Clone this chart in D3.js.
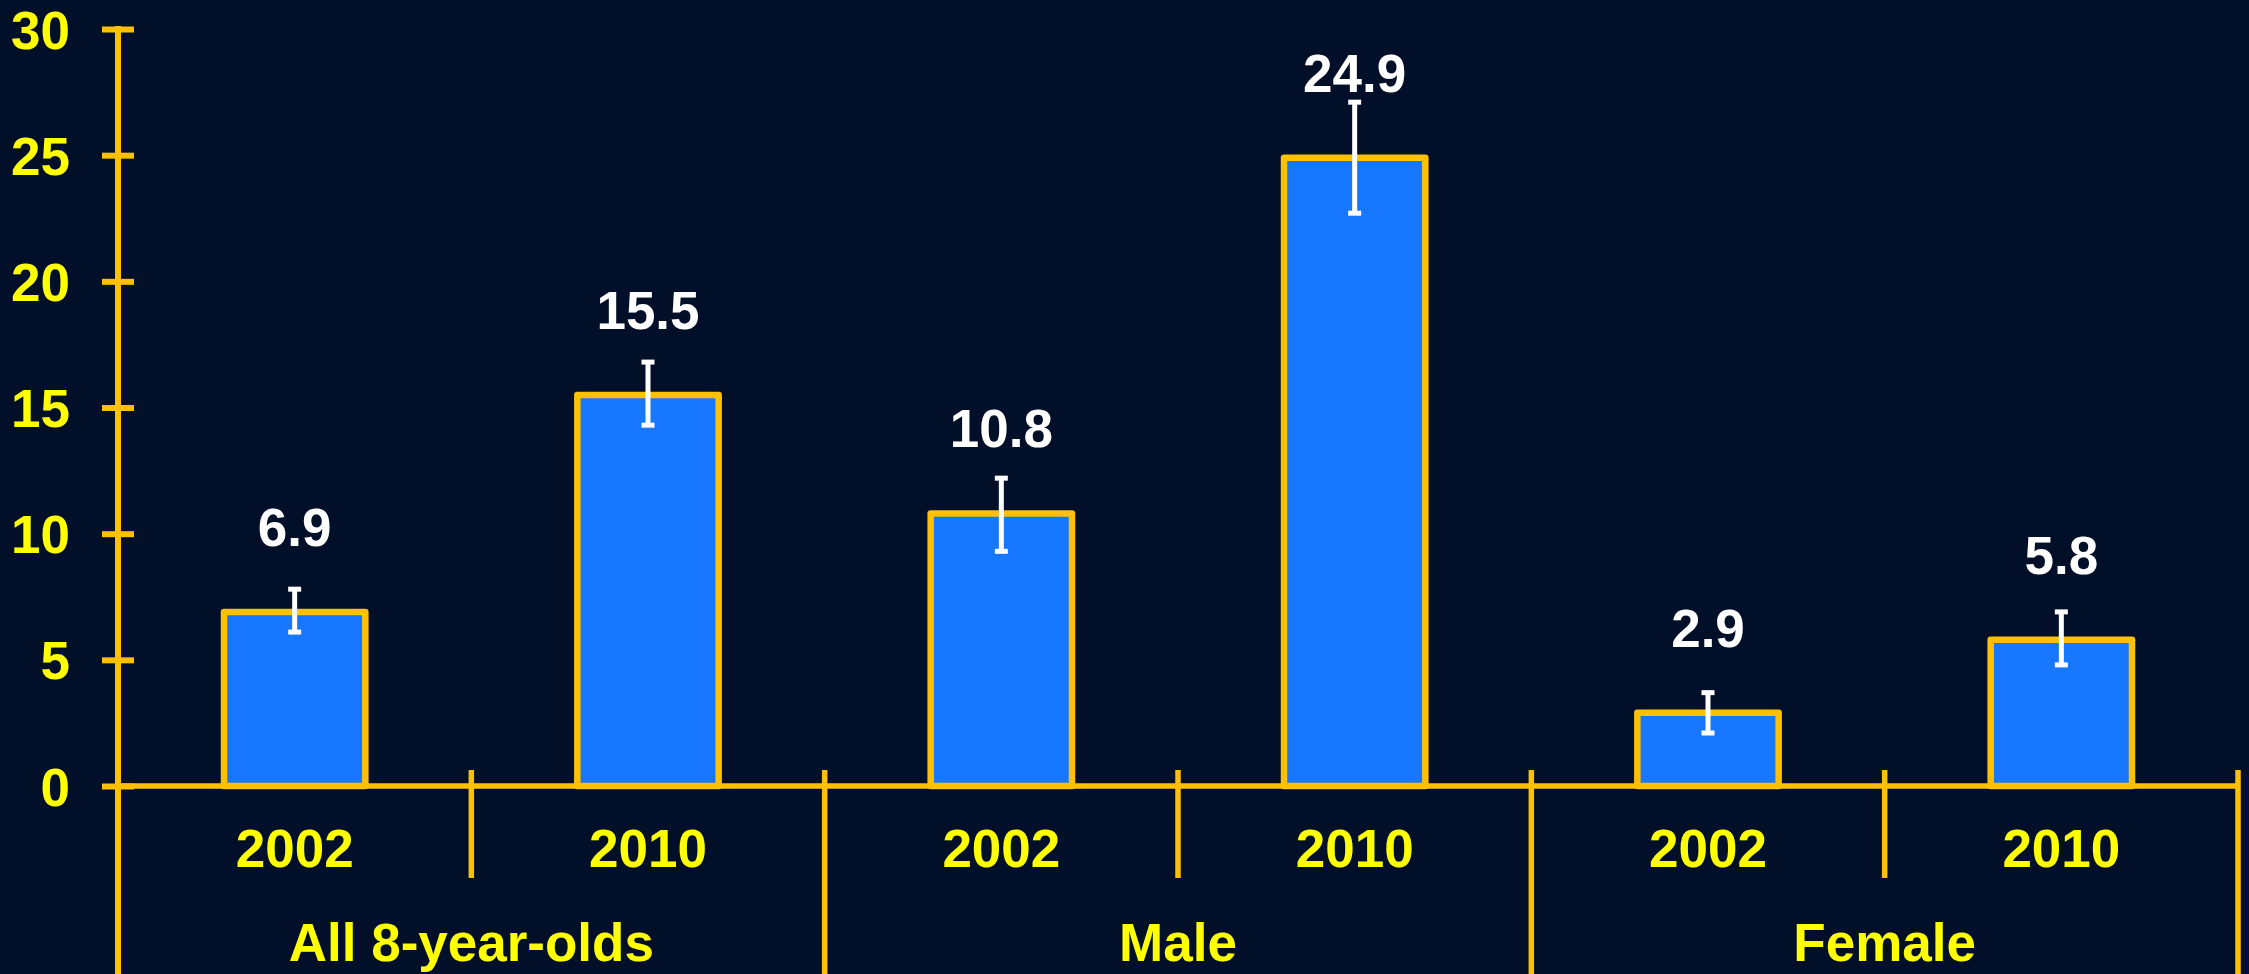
<!DOCTYPE html>
<html>
<head>
<meta charset="utf-8">
<script src="https://cdn.jsdelivr.net/npm/d3@7"></script>
<style>
  html, body { margin: 0; padding: 0; background: #011028; }
  svg { display: block; }
  text { font-family: "Liberation Sans", Arial, sans-serif; font-weight: bold; }
</style>
</head>
<body>
<svg id="chart" width="2249" height="974"></svg>
<script>
// ---- data ----
const groups = ["All 8-year-olds", "Male", "Female"];
const years = ["2002", "2010"];
const values = [6.9, 15.5, 10.8, 24.9, 2.9, 5.8];
const errLow = [6.1, 14.3, 9.3, 22.7, 2.1, 4.8];
const errHigh = [7.8, 16.8, 12.2, 27.1, 3.7, 6.9];
const yTicks = [0, 5, 10, 15, 20, 25, 30];

(function () {
// ---- layout ----
const W = 2249, H = 974;
const mLeft = 118, mRight = 2238, mTop = 29, base = 786;
const gold = "#FFC000", yellow = "#FFFF00", blue = "#1777FF";
const fs = 53;

const svg = d3.select("#chart");
svg.append("rect").attr("width", W).attr("height", H).attr("fill", "#011028");

const bars = values.map((v, i) => ({
  key: groups[Math.floor(i / 2)] + "|" + years[i % 2],
  group: groups[Math.floor(i / 2)], year: years[i % 2],
  v, lo: errLow[i], hi: errHigh[i]
}));

const x = d3.scaleBand().domain(bars.map(d => d.key)).range([mLeft, mRight])
  .paddingInner(0.6).paddingOuter(0.3);
const y = d3.scaleLinear().domain([0, 30]).range([base, mTop]);
const step = x.step();

// bars
svg.append("g").selectAll("rect").data(bars).join("rect")
  .attr("x", d => x(d.key)).attr("y", d => y(d.v))
  .attr("width", x.bandwidth()).attr("height", d => y(0) - y(d.v))
  .attr("fill", blue).attr("stroke", gold).attr("stroke-width", 6.5)
  .attr("stroke-linejoin", "round");

// error bars
const eb = svg.append("g").attr("stroke", "#FFFFFF").attr("stroke-width", 5);
bars.forEach(d => {
  const cx = x(d.key) + x.bandwidth() / 2;
  eb.append("line").attr("x1", cx).attr("x2", cx).attr("y1", y(d.hi)).attr("y2", y(d.lo));
  eb.append("line").attr("x1", cx - 6.5).attr("x2", cx + 6.5).attr("y1", y(d.hi)).attr("y2", y(d.hi));
  eb.append("line").attr("x1", cx - 6.5).attr("x2", cx + 6.5).attr("y1", y(d.lo)).attr("y2", y(d.lo));
});

// value labels
svg.append("g").selectAll("text").data(bars).join("text")
  .attr("x", d => x(d.key) + x.bandwidth() / 2)
  .attr("y", d => y(d.v) - 66)
  .attr("text-anchor", "middle").attr("fill", "#FFFFFF").attr("font-size", fs)
  .text(d => d.v.toFixed(1));

// y axis
const yAxis = d3.axisLeft(y).tickValues(yTicks).tickFormat(d3.format("d")).tickSize(0).tickPadding(0);
const ya = svg.append("g").attr("transform", `translate(${mLeft},0)`).call(yAxis);
ya.select(".domain").remove();
ya.selectAll(".tick line").attr("x1", -16).attr("x2", 16).attr("stroke", gold).attr("stroke-width", 6);
ya.selectAll(".tick text").attr("x", -48).attr("dy", "0.36em")
  .attr("fill", yellow).attr("font-size", fs).attr("font-family", "Liberation Sans, Arial, sans-serif")
  .attr("font-weight", "bold");
svg.append("line").attr("x1", mLeft).attr("x2", mLeft).attr("y1", mTop - 3).attr("y2", H)
  .attr("stroke", gold).attr("stroke-width", 6);

// x axis baseline
svg.append("line").attr("x1", mLeft).attr("x2", mRight).attr("y1", base).attr("y2", base)
  .attr("stroke", gold).attr("stroke-width", 5.5);

// separators
const lines = svg.append("g").attr("stroke", gold).attr("stroke-width", 5.5);
for (let k = 1; k <= bars.length; k++) {
  const sx = mLeft + k * step;
  const major = k % 2 === 0;
  lines.append("line").attr("x1", sx).attr("x2", sx)
    .attr("y1", base - 16).attr("y2", major ? H : 878);
}

// year labels
svg.append("g").selectAll("text").data(bars).join("text")
  .attr("x", d => x(d.key) + x.bandwidth() / 2).attr("y", 867)
  .attr("text-anchor", "middle").attr("fill", yellow).attr("font-size", fs)
  .text(d => d.year);

// group labels
svg.append("g").selectAll("text").data(groups).join("text")
  .attr("x", (d, i) => mLeft + step * (2 * i + 1)).attr("y", 961)
  .attr("text-anchor", "middle").attr("fill", yellow).attr("font-size", fs)
  .text(d => d);
})();
</script>
</body>
</html>
